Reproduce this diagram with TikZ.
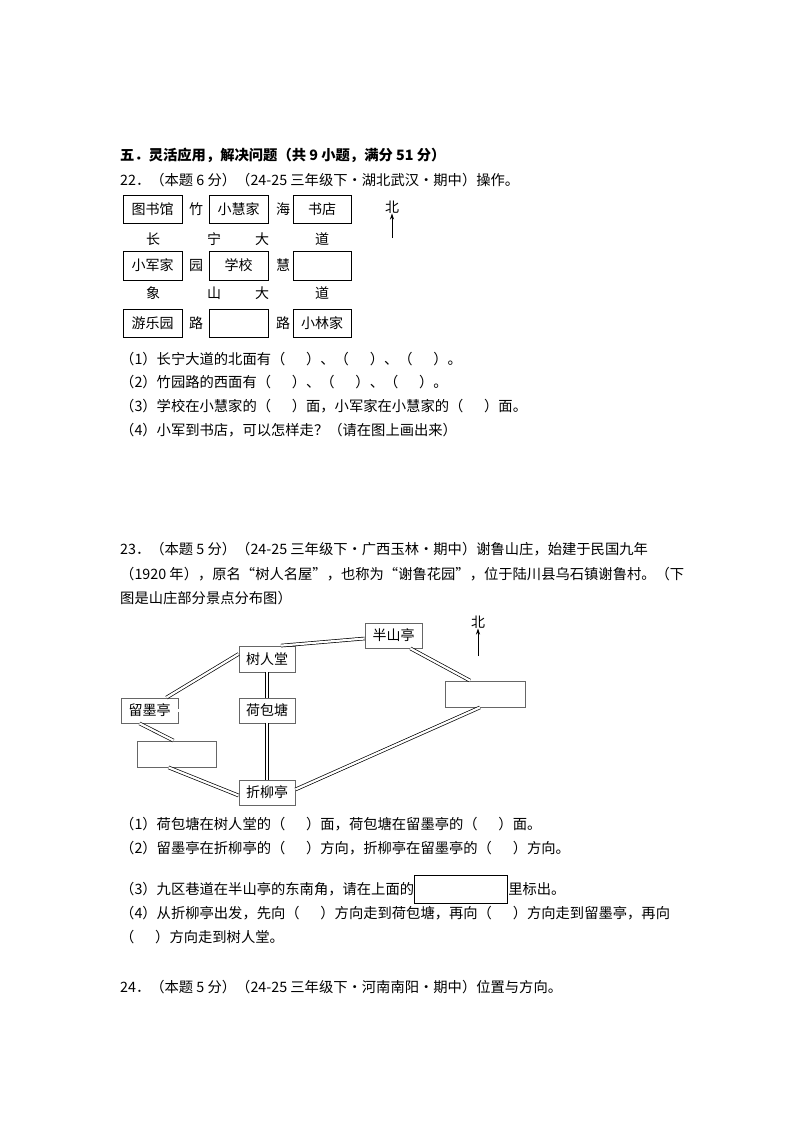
\documentclass[tikz,border=0pt]{standalone}
\usepackage{fontspec}
\usetikzlibrary{arrows.meta}
\setmainfont{Noto Sans CJK SC}
\tikzset{x=1pt,y=-1pt,
 tx/.style={anchor=west,inner sep=0pt,font=\fontsize{14.3}{14}\selectfont},
 bx/.style={draw,line width=0.8pt,inner sep=0pt,font=\fontsize{14}{14}\selectfont},
 lb/.style={inner sep=0pt,font=\fontsize{14}{14}\selectfont},
 road/.style={draw,line width=0.7pt,double=white,double distance=2.2pt},
 nar/.style={-{Stealth[length=6pt,width=4pt]},line width=1pt}}
\begin{document}
\begin{tikzpicture}
\useasboundingbox[fill=white] (0,0) rectangle (800,1132);
\node[tx,font=\fontsize{14.3}{14}\selectfont\bfseries] (h) at (120,155) {五．灵活应用，解决问题（共 9 小题，满分 51 分）};
\node[tx] (q22) at (120,180) {22．（本题 6 分）（24-25 三年级下・湖北武汉・期中）操作。};
% grid
\node[bx,minimum width=59pt,minimum height=28pt] (a1) at (152.5,209) {图书馆};
\node[bx,minimum width=59pt,minimum height=28pt] (a2) at (238.5,209) {小慧家};
\node[bx,minimum width=58pt,minimum height=28pt] (a3) at (322,209) {书店};
\node[lb] (c1) at (196,209) {竹};
\node[lb] (c2) at (283,209) {海};
\node[lb] (r1a) at (153,239) {长};
\node[lb] (r1b) at (214,239) {宁};
\node[lb] (r1c) at (262,239) {大};
\node[lb] (r1d) at (322,239) {道};
\node[bx,minimum width=59pt,minimum height=29pt] (b1) at (152.5,265.5) {小军家};
\node[bx,minimum width=59pt,minimum height=29pt] (b2) at (238.5,265.5) {学校};
\node[bx,minimum width=58pt,minimum height=29pt] (b3) at (322,265.5) {};
\node[lb] (c3) at (196,265.5) {园};
\node[lb] (c4) at (283,265.5) {慧};
\node[lb] (r2a) at (153,293) {象};
\node[lb] (r2b) at (214,293) {山};
\node[lb] (r2c) at (262,293) {大};
\node[lb] (r2d) at (322,293) {道};
\node[bx,minimum width=59pt,minimum height=28pt] (d1) at (152.5,323) {游乐园};
\node[bx,minimum width=59pt,minimum height=28pt] (d2) at (238.5,323) {};
\node[bx,minimum width=58pt,minimum height=28pt] (d3) at (322,323) {小林家};
\node[lb] (c5) at (196,323) {路};
\node[lb] (c6) at (283,323) {路};
\node[lb] (n1) at (392,207) {北};
\coordinate (n1b) at (392,238);
\draw[nar] (n1b) -- (n1.south);
\node[tx] (l1) at (120,359) {（1）长宁大道的北面有（\quad\ \ ）、（\quad\ \ ）、（\quad\ \ ）。};
\node[tx] (l2) at (120,382) {（2）竹园路的西面有（\quad\ \ ）、（\quad\ \ ）、（\quad\ \ ）。};
\node[tx] (l3) at (120,406) {（3）学校在小慧家的（\quad\ \ ）面，小军家在小慧家的（\quad\ \ ）面。};
\node[tx] (l4) at (120,430) {（4）小军到书店，可以怎样走？（请在图上画出来）};
% 23
\node[tx] (q23) at (120,549) {23．（本题 5 分）（24-25 三年级下・广西玉林・期中）谢鲁山庄，始建于民国九年};
\node[tx] (q23b) at (120,574) {（1920 年），原名“树人名屋”，也称为“谢鲁花园”，位于陆川县乌石镇谢鲁村。（下};
\node[tx] (q23c) at (120,598) {图是山庄部分景点分布图）};
% map
\node[bx,draw=gray!80!black,minimum width=57pt,minimum height=25pt] (bs) at (393.5,635.5) {半山亭};
\node[bx,draw=gray!80!black,minimum width=56pt,minimum height=26pt] (sr) at (267,659) {树人堂};
\node[bx,draw=gray!80!black,minimum width=80pt,minimum height=26pt] (rb) at (485,694) {};
\node[bx,draw=gray!80!black,minimum width=57pt,minimum height=25pt] (lm) at (149.5,710.5) {留墨亭};
\node[bx,draw=gray!80!black,minimum width=56pt,minimum height=25pt] (hb) at (267,710.5) {荷包塘};
\node[bx,draw=gray!80!black,minimum width=79pt,minimum height=26pt] (lb2) at (176.5,754) {};
\node[bx,draw=gray!80!black,minimum width=56pt,minimum height=25pt] (zl) at (267,792.5) {折柳亭};
\draw[road] ([xshift=14pt]sr.north) -- ([yshift=-3pt]bs.west);
\draw[road] ([yshift=5pt]sr.west) -- ([xshift=-12pt]lm.north east);
\draw[road] (sr.south) -- (hb.north);
\draw[road] (lm.east) -- (hb.west);
\draw[road] (hb.south) -- (zl.north);
\draw[road] ([xshift=-10pt]lm.south) -- ([xshift=-3pt]lb2.north);
\draw[road] ([xshift=-8pt]lb2.south) -- ([yshift=-3pt]zl.west);
\draw[road] ([yshift=3pt]zl.east) -- ([xshift=-5pt]rb.south);
\draw[road] ([xshift=-12pt]bs.south east) -- ([xshift=-15pt]rb.north);
\node[lb] (n2) at (478,622) {北};
\coordinate (n2b) at (478,656);
\draw[nar] (n2b) -- (n2.south);
\node[tx] (m1) at (120,824) {（1）荷包塘在树人堂的（\quad\ \ ）面，荷包塘在留墨亭的（\quad\ \ ）面。};
\node[tx] (m2) at (120,848) {（2）留墨亭在折柳亭的（\quad\ \ ）方向，折柳亭在留墨亭的（\quad\ \ ）方向。};
\node[tx] (m3) at (120,889) {（3）九区巷道在半山亭的东南角，请在上面的};
\node[bx,minimum width=93pt,minimum height=28pt,anchor=west] (m3b) at (m3.east) {};
\node[tx] (m3c) at (m3b.east) {里标出。};
\node[tx] (m4) at (120,913) {（4）从折柳亭出发，先向（\quad\ \ ）方向走到荷包塘，再向（\quad\ \ ）方向走到留墨亭，再向};
\node[tx] (m5) at (120,937) {（\quad\ \ ）方向走到树人堂。};
\node[tx] (q24) at (120,987) {24．（本题 5 分）（24-25 三年级下・河南南阳・期中）位置与方向。};
\end{tikzpicture}
\end{document}
